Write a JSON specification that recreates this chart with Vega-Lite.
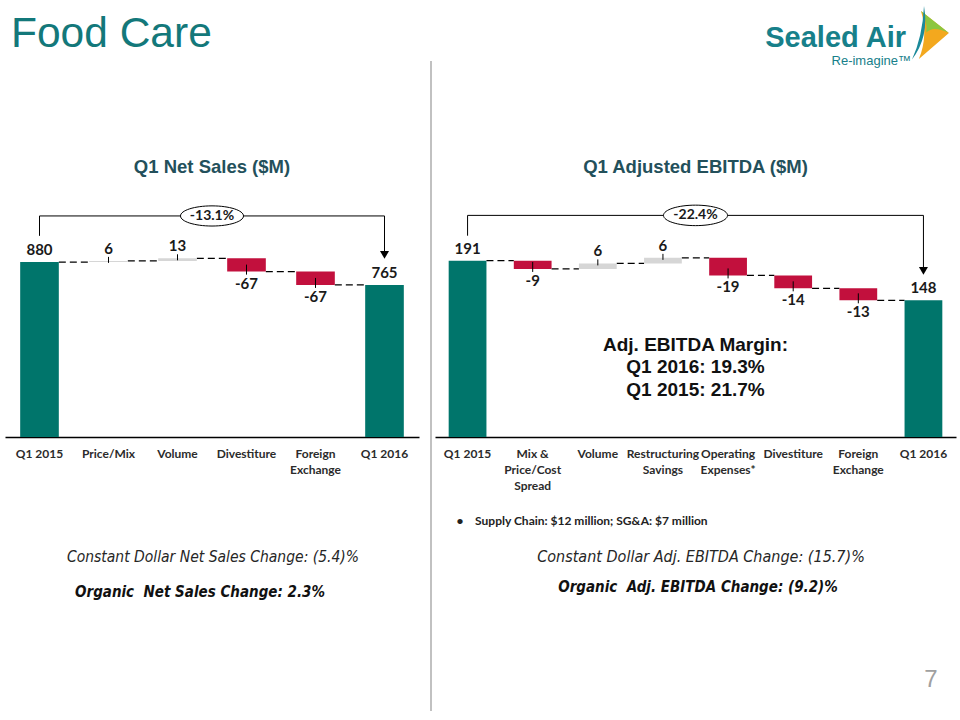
{
  "$schema": "https://vega.github.io/schema/vega-lite/v6.json",
  "background": "white",
  "padding": {"left": 4, "top": 0, "right": 0, "bottom": 0},
  "config": {"view": {"stroke": "transparent"}, "font": "Lato"},
  "datasets": {
    "netSales": [
      {"category": "Q1 2015", "next": "Price/Mix", "start": 0, "end": 880, "value": 880, "type": "total"},
      {"category": "Price/Mix", "next": "Volume", "start": 880, "end": 886, "value": 6, "type": "increase"},
      {"category": "Volume", "next": "Divestiture", "start": 886, "end": 899, "value": 13, "type": "increase"},
      {"category": "Divestiture", "next": "Foreign Exchange", "start": 899, "end": 832, "value": -67, "type": "decrease"},
      {"category": "Foreign Exchange", "next": "Q1 2016", "start": 832, "end": 765, "value": -67, "type": "decrease"},
      {"category": "Q1 2016", "next": null, "start": 0, "end": 765, "value": 765, "type": "total"}
    ],
    "ebitda": [
      {"category": "Q1 2015", "next": "Mix & Price/Cost Spread", "start": 0, "end": 191, "value": 191, "type": "total"},
      {"category": "Mix & Price/Cost Spread", "next": "Volume", "start": 191, "end": 182, "value": -9, "type": "decrease"},
      {"category": "Volume", "next": "Restructuring Savings", "start": 182, "end": 188, "value": 6, "type": "increase"},
      {"category": "Restructuring Savings", "next": "Operating Expenses*", "start": 188, "end": 194, "value": 6, "type": "increase"},
      {"category": "Operating Expenses*", "next": "Divestiture", "start": 194, "end": 175, "value": -19, "type": "decrease"},
      {"category": "Divestiture", "next": "Foreign Exchange", "start": 175, "end": 161, "value": -14, "type": "decrease"},
      {"category": "Foreign Exchange", "next": "Q1 2016", "start": 161, "end": 148, "value": -13, "type": "decrease"},
      {"category": "Q1 2016", "next": null, "start": 0, "end": 148, "value": 148, "type": "total"}
    ]
  },
  "bounds": "flush",
  "spacing": 20,
  "vconcat": [
    {
      "width": 956,
      "height": 187,
      "data": {"values": [{}]},
      "layer": [
        {"mark": {"type": "text", "align": "left", "baseline": "alphabetic", "font": "Liberation Sans", "fontSize": 42.5, "color": "#13787A"},
         "encoding": {"x": {"value": 6}, "y": {"value": 46}, "text": {"value": "Food Care"}}},
        {"mark": {"type": "text", "align": "right", "baseline": "alphabetic", "font": "Liberation Sans", "fontWeight": "bold", "fontSize": 29, "color": "#17808A"},
         "encoding": {"x": {"value": 901}, "y": {"value": 46}, "text": {"value": "Sealed Air"}}},
        {"mark": {"type": "text", "align": "right", "baseline": "alphabetic", "font": "Liberation Sans", "fontSize": 13, "color": "#17808A"},
         "encoding": {"x": {"value": 906}, "y": {"value": 64}, "text": {"value": "Re-imagine™"}}},
        {"mark": {"type": "point", "shape": "M -0.3 -0.77 L 0.63 -0.03 L -0.37 0.83 Q -0.05 0.05 -0.3 -0.77 Z", "filled": true, "color": "#F3A81E", "opacity": 1, "size": 3600},
         "encoding": {"x": {"value": 925}, "y": {"value": 33}}},
        {"mark": {"type": "point", "shape": "M -0.3 -0.77 L 0.63 -0.03 Q 0.1 -0.3 -0.12 -0.05 Q -0.08 -0.5 -0.3 -0.77 Z", "filled": true, "color": "#8CC63F", "opacity": 1, "size": 3600},
         "encoding": {"x": {"value": 925}, "y": {"value": 33}}},
        {"mark": {"type": "point", "shape": "M -0.2 -0.93 Q -0.02 0.1 -0.6 0.85 Q -0.25 0.1 -0.2 -0.93 Z", "filled": true, "color": "#1B8A9A", "opacity": 1, "size": 3600},
         "encoding": {"x": {"value": 925}, "y": {"value": 33}}},
        {"mark": {"type": "rule", "color": "#A0A0A0", "strokeWidth": 1.3},
         "encoding": {"x": {"value": 426}, "y": {"value": 60}, "y2": {"value": 710}}},
        {"mark": {"type": "text", "align": "center", "baseline": "alphabetic", "font": "Liberation Sans", "fontSize": 24, "color": "#A0A0A0"},
         "encoding": {"x": {"value": 926}, "y": {"value": 686}, "text": {"value": "7"}}},
        {"mark": {"type": "text", "align": "center", "baseline": "middle", "font": "Liberation Sans Narrow, DejaVu Sans Condensed", "fontStyle": "italic", "fontSize": 15.5, "color": "#262626"},
         "encoding": {"x": {"value": 208}, "y": {"value": 556}, "text": {"value": "Constant Dollar Net Sales Change: (5.4)%"}}},
        {"mark": {"type": "text", "align": "center", "baseline": "middle", "font": "Liberation Sans Narrow, DejaVu Sans Condensed", "fontStyle": "italic", "fontWeight": "bold", "fontSize": 15, "color": "#111111"},
         "encoding": {"x": {"value": 195}, "y": {"value": 591}, "text": {"value": "Organic\u00a0\u00a0Net Sales Change: 2.3%"}}},
        {"mark": {"type": "text", "align": "center", "baseline": "middle", "font": "Liberation Sans Narrow, DejaVu Sans Condensed", "fontStyle": "italic", "fontSize": 16, "color": "#262626"},
         "encoding": {"x": {"value": 696}, "y": {"value": 556}, "text": {"value": "Constant Dollar Adj. EBITDA Change: (15.7)%"}}},
        {"mark": {"type": "text", "align": "center", "baseline": "middle", "font": "Liberation Sans Narrow, DejaVu Sans Condensed", "fontStyle": "italic", "fontWeight": "bold", "fontSize": 15, "color": "#111111"},
         "encoding": {"x": {"value": 693}, "y": {"value": 586}, "text": {"value": "Organic\u00a0\u00a0Adj. EBITDA Change: (9.2)%"}}}
      ]
    },
    {
      "bounds": "flush",
      "spacing": 16,
      "hconcat": [
        {
          "width": 414,
          "height": 229,
          "title": {"text": "Q1 Net Sales ($M)", "font": "Liberation Sans", "fontSize": 18.5, "fontWeight": "bold", "color": "#23505B", "offset": 8, "baseline": "bottom"},
          "data": {"name": "netSales"},
          "layer": [
            {"transform": [{"filter": "datum.next != null"}],
             "mark": {"type": "rule", "color": "#000000", "strokeWidth": 1.2, "strokeDash": [7, 4]},
             "encoding": {
               "x": {"field": "category", "type": "nominal", "sort": null, "bandPosition": 1},
               "x2": {"field": "next", "bandPosition": 0},
               "y": {"field": "end", "type": "quantitative", "axis": null}}},
            {"mark": {"type": "bar"},
             "encoding": {
               "x": {"field": "category", "type": "nominal", "sort": null,
                     "scale": {"domain": ["Q1 2015", "Price/Mix", "Volume", "Divestiture", "Foreign Exchange", "Q1 2016"], "paddingInner": 0.44, "paddingOuter": 0.22},
                     "axis": {"title": null, "labelAngle": 0, "labelAlign": "center", "ticks": false, "tickSize": 0, "domain": true, "domainColor": "#000000", "domainWidth": 1.5, "labelFont": "Lato", "labelFontWeight": "bold", "labelFontSize": 12, "labelColor": "#2B2B2B", "labelPadding": 11, "labelBaseline": "top", "labelLineHeight": 16, "labelOverlap": false, "labelLimit": 0,
                              "labelExpr": "datum.label == 'Foreign Exchange' ? ['Foreign', 'Exchange'] : datum.label"}},
               "y": {"field": "start", "type": "quantitative", "scale": {"domain": [0, 1152], "nice": false}, "axis": null},
               "y2": {"field": "end"},
               "color": {"field": "type", "type": "nominal", "scale": {"domain": ["total", "increase", "decrease"], "range": ["#00756B", "#D6D6D6", "#C2103D"]}, "legend": null}}},
            {"transform": [{"filter": "datum.type == 'increase'"}],
             "mark": {"type": "rule", "color": "#000000", "strokeWidth": 1, "yOffset": -4, "y2Offset": 2},
             "encoding": {"x": {"field": "category", "type": "nominal", "sort": null}, "y": {"field": "end", "type": "quantitative", "axis": null}, "y2": {"field": "end"}}},
            {"transform": [{"filter": "datum.type == 'decrease'"}],
             "mark": {"type": "rule", "color": "#000000", "strokeWidth": 1, "yOffset": -7, "y2Offset": 3},
             "encoding": {"x": {"field": "category", "type": "nominal", "sort": null}, "y": {"field": "end", "type": "quantitative", "axis": null}, "y2": {"field": "end"}}},
            {"transform": [{"filter": "datum.type != 'decrease'"}],
             "mark": {"type": "text", "baseline": "bottom", "dy": -4, "font": "Lato", "fontWeight": "bold", "fontSize": 15, "color": "#1A1A1A"},
             "encoding": {"x": {"field": "category", "type": "nominal", "sort": null}, "y": {"field": "end", "type": "quantitative", "axis": null}, "text": {"field": "value", "type": "nominal"}}},
            {"transform": [{"filter": "datum.type == 'decrease'"}],
             "mark": {"type": "text", "baseline": "top", "dy": 5, "font": "Lato", "fontWeight": "bold", "fontSize": 15, "color": "#1A1A1A"},
             "encoding": {"x": {"field": "category", "type": "nominal", "sort": null}, "y": {"field": "end", "type": "quantitative", "axis": null}, "text": {"field": "value", "type": "nominal"}}},
            {"data": {"values": [{}]},
             "mark": {"type": "rule", "color": "#000000", "strokeWidth": 1},
             "encoding": {"x": {"datum": "Q1 2015", "type": "nominal"}, "y": {"datum": 1012, "type": "quantitative", "axis": null}, "y2": {"datum": 1112}}},
            {"data": {"values": [{}]},
             "mark": {"type": "rule", "color": "#000000", "strokeWidth": 1},
             "encoding": {"x": {"datum": "Q1 2015", "type": "nominal"}, "x2": {"datum": "Q1 2016"}, "y": {"datum": 1112, "type": "quantitative", "axis": null}}},
            {"data": {"values": [{}]},
             "mark": {"type": "rule", "color": "#000000", "strokeWidth": 1},
             "encoding": {"x": {"datum": "Q1 2016", "type": "nominal"}, "y": {"datum": 1112, "type": "quantitative", "axis": null}, "y2": {"datum": 925}}},
            {"data": {"values": [{}]},
             "mark": {"type": "point", "shape": "triangle-down", "filled": true, "color": "#000000", "opacity": 1, "size": 81},
             "encoding": {"x": {"datum": "Q1 2016", "type": "nominal"}, "y": {"datum": 916, "type": "quantitative", "axis": null}}},
            {"data": {"values": [{"change": "-13.1%"}]},
             "mark": {"type": "point", "shape": "M -1 0 C -1 -0.177 -0.552 -0.32 0 -0.32 C 0.552 -0.32 1 -0.177 1 0 C 1 0.177 0.552 0.32 0 0.32 C -0.552 0.32 -1 0.177 -1 0 Z", "filled": true, "color": "#FFFFFF", "stroke": "#000000", "strokeWidth": 1, "opacity": 1, "size": 3969},
             "encoding": {"y": {"datum": 1112, "type": "quantitative", "axis": null}}},
            {"data": {"values": [{"change": "-13.1%"}]},
             "mark": {"type": "text", "baseline": "middle", "font": "Lato", "fontWeight": "bold", "fontSize": 14, "color": "#1A1A1A"},
             "encoding": {"y": {"datum": 1112, "type": "quantitative", "axis": null}, "text": {"field": "change", "type": "nominal"}}}
          ]
        },
        {
          "width": 521,
          "height": 229,
          "title": {"text": "Q1 Adjusted EBITDA ($M)", "font": "Liberation Sans", "fontSize": 18.5, "fontWeight": "bold", "color": "#23505B", "offset": 8, "baseline": "bottom"},
          "data": {"name": "ebitda"},
          "layer": [
            {"transform": [{"filter": "datum.next != null"}],
             "mark": {"type": "rule", "color": "#000000", "strokeWidth": 1.2, "strokeDash": [7, 4]},
             "encoding": {
               "x": {"field": "category", "type": "nominal", "sort": null, "bandPosition": 1},
               "x2": {"field": "next", "bandPosition": 0},
               "y": {"field": "end", "type": "quantitative", "axis": null}}},
            {"mark": {"type": "bar"},
             "encoding": {
               "x": {"field": "category", "type": "nominal", "sort": null,
                     "scale": {"domain": ["Q1 2015", "Mix & Price/Cost Spread", "Volume", "Restructuring Savings", "Operating Expenses*", "Divestiture", "Foreign Exchange", "Q1 2016"], "paddingInner": 0.42, "paddingOuter": 0.21},
                     "axis": {"title": "•\u00a0\u00a0\u00a0\u00a0Supply Chain: $12 million; SG&A: $7 million", "titleFont": "Lato", "titleFontWeight": "bold", "titleFontSize": 12, "titleColor": "#222222", "titleX": 21, "titleY": 83, "titleAlign": "left", "titleAnchor": "start", "titleBaseline": "middle",
                              "labelAngle": 0, "labelAlign": "center", "ticks": false, "tickSize": 0, "domain": true, "domainColor": "#000000", "domainWidth": 1.5, "labelFont": "Lato", "labelFontWeight": "bold", "labelFontSize": 12, "labelColor": "#2B2B2B", "labelPadding": 11, "labelBaseline": "top", "labelLineHeight": 16, "labelOverlap": false, "labelLimit": 0,
                              "labelExpr": "datum.label == 'Foreign Exchange' ? ['Foreign', 'Exchange'] : datum.label == 'Mix & Price/Cost Spread' ? ['Mix &', 'Price/Cost', 'Spread'] : datum.label == 'Restructuring Savings' ? ['Restructuring', 'Savings'] : datum.label == 'Operating Expenses*' ? ['Operating', 'Expenses*'] : datum.label"}},
               "y": {"field": "start", "type": "quantitative", "scale": {"domain": [0, 248], "nice": false}, "axis": null},
               "y2": {"field": "end"},
               "color": {"field": "type", "type": "nominal", "scale": {"domain": ["total", "increase", "decrease"], "range": ["#00756B", "#D6D6D6", "#C2103D"]}, "legend": null}}},
            {"transform": [{"filter": "datum.type == 'increase'"}],
             "mark": {"type": "rule", "color": "#000000", "strokeWidth": 1, "yOffset": -4, "y2Offset": 2},
             "encoding": {"x": {"field": "category", "type": "nominal", "sort": null}, "y": {"field": "end", "type": "quantitative", "axis": null}, "y2": {"field": "end"}}},
            {"transform": [{"filter": "datum.type == 'decrease'"}],
             "mark": {"type": "rule", "color": "#000000", "strokeWidth": 1, "yOffset": -7, "y2Offset": 3},
             "encoding": {"x": {"field": "category", "type": "nominal", "sort": null}, "y": {"field": "end", "type": "quantitative", "axis": null}, "y2": {"field": "end"}}},
            {"transform": [{"filter": "datum.type != 'decrease'"}],
             "mark": {"type": "text", "baseline": "bottom", "dy": -4, "font": "Lato", "fontWeight": "bold", "fontSize": 15, "color": "#1A1A1A"},
             "encoding": {"x": {"field": "category", "type": "nominal", "sort": null}, "y": {"field": "end", "type": "quantitative", "axis": null}, "text": {"field": "value", "type": "nominal"}}},
            {"transform": [{"filter": "datum.type == 'decrease'"}],
             "mark": {"type": "text", "baseline": "top", "dy": 5, "font": "Lato", "fontWeight": "bold", "fontSize": 15, "color": "#1A1A1A"},
             "encoding": {"x": {"field": "category", "type": "nominal", "sort": null}, "y": {"field": "end", "type": "quantitative", "axis": null}, "text": {"field": "value", "type": "nominal"}}},
            {"data": {"values": [{}]},
             "mark": {"type": "rule", "color": "#000000", "strokeWidth": 1},
             "encoding": {"x": {"datum": "Q1 2015", "type": "nominal"}, "y": {"datum": 218, "type": "quantitative", "axis": null}, "y2": {"datum": 240}}},
            {"data": {"values": [{}]},
             "mark": {"type": "rule", "color": "#000000", "strokeWidth": 1},
             "encoding": {"x": {"datum": "Q1 2015", "type": "nominal"}, "x2": {"datum": "Q1 2016"}, "y": {"datum": 240, "type": "quantitative", "axis": null}}},
            {"data": {"values": [{}]},
             "mark": {"type": "rule", "color": "#000000", "strokeWidth": 1},
             "encoding": {"x": {"datum": "Q1 2016", "type": "nominal"}, "y": {"datum": 240, "type": "quantitative", "axis": null}, "y2": {"datum": 184}}},
            {"data": {"values": [{}]},
             "mark": {"type": "point", "shape": "triangle-down", "filled": true, "color": "#000000", "opacity": 1, "size": 81},
             "encoding": {"x": {"datum": "Q1 2016", "type": "nominal"}, "y": {"datum": 180, "type": "quantitative", "axis": null}}},
            {"data": {"values": [{"change": "-22.4%"}]},
             "mark": {"type": "point", "shape": "M -1 0 C -1 -0.177 -0.552 -0.32 0 -0.32 C 0.552 -0.32 1 -0.177 1 0 C 1 0.177 0.552 0.32 0 0.32 C -0.552 0.32 -1 0.177 -1 0 Z", "filled": true, "color": "#FFFFFF", "stroke": "#000000", "strokeWidth": 1, "opacity": 1, "size": 4096},
             "encoding": {"y": {"datum": 240, "type": "quantitative", "axis": null}}},
            {"data": {"values": [{"change": "-22.4%"}]},
             "mark": {"type": "text", "baseline": "middle", "font": "Lato", "fontWeight": "bold", "fontSize": 14, "color": "#1A1A1A"},
             "encoding": {"y": {"datum": 240, "type": "quantitative", "axis": null}, "text": {"field": "change", "type": "nominal"}}},
            {"data": {"values": [{}]},
             "mark": {"type": "text", "baseline": "middle", "lineHeight": 22.5, "font": "Liberation Sans", "fontWeight": "bold", "fontSize": 19, "color": "#111111"},
             "encoding": {"y": {"datum": 100, "type": "quantitative", "axis": null}, "text": {"value": ["Adj. EBITDA Margin:", "Q1 2016: 19.3%", "Q1 2015: 21.7%"]}}}
          ]
        }
      ]
    }
  ]
}
